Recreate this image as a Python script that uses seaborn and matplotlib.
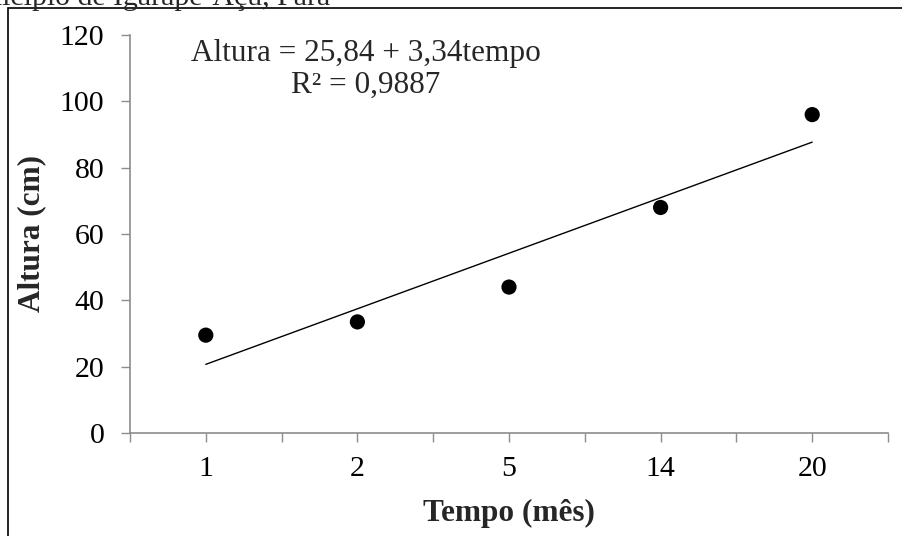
import numpy as np
import matplotlib
matplotlib.use("Agg")
import matplotlib.pyplot as plt
import seaborn as sns
from matplotlib.patches import Rectangle

tempo_labels = ["1", "2", "5", "14", "20"]
altura = [29.5, 33.5, 44, 68, 96]
y_ticks = [0, 20, 40, 60, 80, 100, 120]
equacao = "Altura = 25,84 + 3,34tempo\nR² = 0,9887"
titulo = "município de Igarapé-Açu, Pará"

sns.set_style("white")
plt.rcParams["font.family"] = ["Liberation Serif", "DejaVu Serif"]

W, H = 903, 536
fig = plt.figure(figsize=(W / 100, H / 100), dpi=100)
ax = fig.add_axes([130 / W, 1 - 433 / H, 758 / W, 398 / H])

pos = np.arange(len(tempo_labels))
sns.regplot(x=pos, y=altura, ci=None, ax=ax, color="black",
            scatter_kws=dict(s=120, edgecolor="none", alpha=1, zorder=3),
            line_kws=dict(color="black", lw=1.0))

ax.set_xlim(-0.5, len(tempo_labels) - 0.5)
ax.set_ylim(0, 120)
ax.set_xticks(pos)
ax.set_xticklabels(tempo_labels)
ax.set_xticks(np.arange(-0.5, len(tempo_labels), 1), minor=True)
ax.set_yticks(y_ticks)

gray = "#8c8c8c"
for s in ["top", "right"]:
    ax.spines[s].set_visible(False)
for s in ["left", "bottom"]:
    ax.spines[s].set_color(gray)
    ax.spines[s].set_linewidth(1.2)
ax.tick_params(axis="both", which="both", direction="out", length=6.5,
               width=1.0, color=gray, labelsize=21.5, labelcolor="black")
ax.tick_params(axis="x", which="major", bottom=True, pad=10)
ax.tick_params(axis="x", which="minor", bottom=True)
ax.tick_params(axis="y", left=True, pad=12)

ax.set_xlabel("Tempo (mês)", fontsize=22.5, fontweight="bold", labelpad=12)
ax.set_ylabel("Altura (cm)", fontsize=22.5, fontweight="bold", labelpad=10)

ax.text(0.311, 0.99, equacao, transform=ax.transAxes, ha="center", va="top",
        multialignment="center", fontsize=22.5, linespacing=1.15)

fig.text(330 / W, 1 - 5 / H, titulo, ha="right", va="baseline", fontsize=21.5)

fig.patches.append(Rectangle((8 / W, -0.1), 1.1, 1.1 - 8 / H,
                             transform=fig.transFigure, fill=False,
                             edgecolor="black", lw=1.2))

fig.savefig("out.png", dpi=100)
